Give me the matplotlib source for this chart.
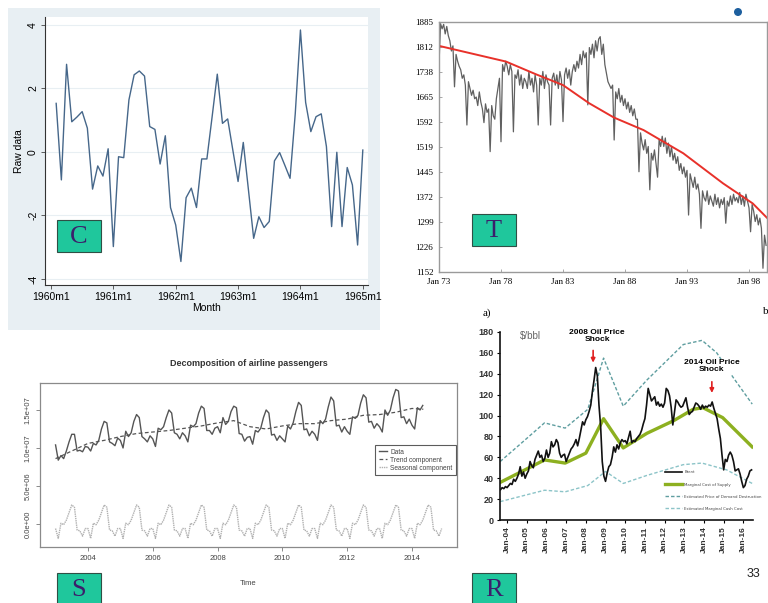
import numpy as np
import matplotlib.pyplot as plt
from matplotlib.patches import Rectangle, Ellipse

# ---- C panel: raw monthly data, 1960m2 .. 1965m1
c_month = np.arange(1, 61)
c_vals = [1.53, -0.88, 2.76, 0.95, 1.1, 1.27, 0.75, -1.17, -0.44, -0.76, 0.1, -2.98,
          -0.15, -0.18, 1.64, 2.43, 2.55, 2.39, 0.8, 0.71, -0.38, 0.51, -1.75, -2.3,
          -3.45, -1.44, -1.14, -1.75, -0.22, -0.22, 1.1, 2.45, 0.9, 1.04, 0.05, -0.93,
          0.3, -1.2, -2.72, -2.04, -2.38, -2.19, -0.28, -0.02, -0.42, -0.83, 1.2, 3.84,
          1.56, 0.64, 1.11, 1.2, 0.17, -2.35, -0.01, -2.35, -0.49, -1.04, -2.93, 0.06]
c_xticks = ['1960m1', '1961m1', '1962m1', '1963m1', '1964m1', '1965m1']

# ---- T panel: series sampled 8 times a year from Jan 73, plus red trend
t_vals = [1760, 1880, 1865, 1878, 1850, 1872, 1845, 1830,   # 1973
          1800, 1815, 1695, 1790, 1770, 1755, 1745, 1720,   # 1974
          1730, 1700, 1583, 1710, 1690, 1670, 1685, 1660,   # 1975
          1665, 1640, 1680, 1650, 1630, 1590, 1645, 1620,   # 1976
          1630, 1505, 1640, 1610, 1600, 1660, 1690, 1720,   # 1977
          1534, 1760, 1740, 1770, 1755, 1730, 1760, 1740,   # 1978
          1563, 1730, 1720, 1745, 1700, 1730, 1690, 1720,   # 1979
          1710, 1690, 1740, 1700, 1720, 1680, 1730, 1700,   # 1980
          1583, 1720, 1700, 1740, 1690, 1730, 1710, 1700,   # 1981
          1583, 1720, 1735, 1700, 1730, 1690, 1740, 1715,   # 1982
          1593, 1730, 1750, 1720, 1745, 1700, 1740, 1760,   # 1983
          1740, 1770, 1750, 1790, 1760, 1800, 1780, 1795,   # 1984
          1642, 1810, 1790, 1820, 1780, 1830, 1800, 1835,   # 1985
          1842, 1790, 1820, 1760, 1735, 1710, 1700, 1690,   # 1986
          1700, 1539, 1680, 1660, 1690, 1650, 1670, 1640,   # 1987
          1660, 1630, 1650, 1620, 1640, 1610, 1630, 1600,   # 1988
          1600, 1446, 1560, 1530, 1510, 1540, 1500, 1520,   # 1989
          1393, 1500, 1480, 1510, 1470, 1430, 1540, 1520,   # 1990
          1550, 1520, 1545, 1500, 1530, 1490, 1520, 1480,   # 1991
          1500, 1470, 1490, 1450, 1470, 1440, 1460, 1430,   # 1992
          1450, 1319, 1440, 1420, 1400, 1430, 1395, 1410,   # 1993
          1380, 1280, 1390, 1370, 1360, 1390, 1350, 1375,   # 1994
          1360, 1345, 1380, 1350, 1370, 1340, 1365, 1350,   # 1995
          1370, 1295, 1360, 1345, 1375, 1350, 1380, 1360,   # 1996
          1370, 1355, 1385, 1350, 1375, 1345, 1380, 1360,   # 1997
          1340, 1270, 1350, 1330, 1300, 1320, 1290, 1310,   # 1998
          1280, 1163, 1260, 1230]                           # 1999
t_time = 1973 + np.arange(len(t_vals)) / 8
trend_years = [1973, 1978.4, 1980.8, 1983.0, 1985.1, 1987.1, 1989.5, 1992.7, 1995.9, 1998.3, 1999.5]
trend_vals = [1815, 1769, 1732, 1700, 1647, 1605, 1568, 1500, 1412, 1353, 1309]
t_yticks = [1152, 1226, 1299, 1372, 1445, 1519, 1592, 1665, 1738, 1812, 1885]
t_xticks = ['Jan 73', 'Jan 78', 'Jan 83', 'Jan 88', 'Jan 93', 'Jan 98']

# ---- S panel: airline passengers (millions), monthly from Jan 2003
s_data = [10.4, 8.4, 9.0, 8.6, 9.6, 10.8, 11.8, 11.8, 9.6, 9.7, 9.5, 10.2,
          10.1, 9.6, 10.6, 10.4, 11.0, 12.5, 13.5, 13.3, 10.8, 10.6, 10.3, 11.3,
          11.0, 10.0, 12.2, 11.5, 12.0, 13.5, 14.4, 14.0, 11.5, 11.2, 10.8, 11.6,
          11.2, 10.2, 12.6, 12.4, 12.8, 14.0, 15.0, 14.6, 12.0, 11.8, 11.2, 12.0,
          11.6, 10.8, 13.0, 12.8, 13.2, 14.6, 15.5, 15.2, 12.3, 12.3, 11.8, 12.6,
          12.8, 12.0, 14.0, 13.1, 13.5, 14.8, 15.5, 15.3, 11.9, 11.8, 10.9, 11.4,
          11.5, 10.5, 12.3, 12.1, 12.6, 14.0, 15.0, 14.6, 11.7, 11.8, 11.0, 11.6,
          11.2, 10.8, 12.9, 12.5, 13.3, 14.8, 16.0, 15.6, 12.4, 12.5, 11.6, 12.2,
          11.8, 11.0, 13.6, 13.2, 13.8, 15.4, 16.7, 16.2, 12.9, 13.0, 12.1, 12.8,
          12.2, 11.8, 14.1, 13.9, 14.3, 15.9, 17.0, 16.6, 13.4, 13.5, 12.6, 13.2,
          12.8, 12.1, 15.0, 14.3, 15.0, 16.6, 17.7, 17.5, 14.0, 14.1, 13.2, 13.8,
          13.0, 12.5, 15.3, 15.0, 15.6]
s_trend_t = [2003.0, 2003.5, 2004.0, 2004.5, 2005.0, 2005.5, 2006.0, 2006.5, 2007.0, 2007.5,
             2008.0, 2008.5, 2009.0, 2009.5, 2010.0, 2010.5, 2011.0, 2011.5, 2012.0, 2012.5,
             2013.0, 2013.5, 2014.0, 2014.35]
s_trend = [8.6, 9.6, 10.6, 11.0, 11.5, 11.9, 12.1, 12.3, 12.6, 12.9,
           13.3, 13.6, 12.8, 12.5, 12.9, 13.2, 13.2, 13.6, 13.8, 14.3,
           14.4, 14.7, 15.2, 15.1]
s_season = [-0.6, -1.9, 0.1, -0.1, 0.5, 1.5, 2.5, 2.2, -0.8, -0.9, -1.6, -0.6]
s_yticks = ['0.0e+00', '5.0e+06', '1.0e+07', '1.5e+07']

# ---- R panel: oil prices ($/bbl)
brent = [29, 31, 30, 32,
         31, 33, 35, 34, 39, 37, 40, 44, 51, 42, 46, 40,
         44, 47, 56, 52, 50, 58, 62, 66, 60, 62, 56, 59,
         67, 60, 64, 75, 70, 72, 77, 74, 64, 60, 62, 63,
         56, 60, 64, 68, 70, 73, 77, 71, 78, 86, 94, 91,
         96, 99, 104, 110, 123, 134, 146, 138, 110, 90, 56, 42,
         37, 45, 51, 53, 60, 70, 65, 72, 68, 74, 77, 75,
         76, 73, 79, 85, 74, 76, 75, 78, 80, 82, 86, 92,
         97, 110, 126, 120, 114, 116, 118, 110, 113, 109, 111, 108,
         112, 126, 124, 119, 108, 91, 103, 115, 113, 110, 108, 109,
         113, 117, 108, 101, 103, 104, 108, 112, 111, 109, 106, 110,
         107, 109, 108, 110, 109, 113, 107, 102, 97, 87, 78, 62,
         48, 58, 56, 62, 65, 62, 56, 47, 48, 49, 44, 37,
         31, 33, 39, 42, 47, 48]
brent_t = 2003 + 8 / 12 + np.arange(len(brent)) / 12
supply_t = [2003.65, 2005.9, 2006.95, 2008.0, 2008.9, 2009.9, 2011.1, 2012.45, 2013.45, 2013.95, 2014.95, 2016.45]
supply = [36, 57.5, 54.5, 64, 97, 69, 83, 95, 106, 107.5, 98, 70]
demand_t = [2003.65, 2004.75, 2005.9, 2006.95, 2008.1, 2008.9, 2009.9, 2011.1, 2012.95, 2013.9, 2014.65, 2015.5, 2016.45]
demand = [56, 74, 93, 88, 106, 155, 109, 134, 168, 172, 160, 136, 111]
cash_t = [2003.65, 2005.9, 2006.95, 2008.1, 2009.0, 2009.9, 2011.1, 2012.95, 2013.9, 2015.15, 2016.45]
cash = [17.6, 28.5, 27, 33, 46.5, 35, 42.7, 53, 54.5, 48, 35]
r_xticks = ['Jan-04', 'Jan-05', 'Jan-06', 'Jan-07', 'Jan-08', 'Jan-09', 'Jan-10',
            'Jan-11', 'Jan-12', 'Jan-13', 'Jan-14', 'Jan-15', 'Jan-16']

W, H = 768, 603
fig = plt.figure(figsize=(7.68, 6.03), dpi=100)
fig.patch.set_facecolor('white')


def px_axes(l, t, r, b):
    return fig.add_axes([l / W, 1 - b / H, (r - l) / W, (b - t) / H])


def label_box(x, y, letter):
    fig.add_artist(Rectangle((x / W, 1 - (y + 32) / H), 44 / W, 32 / H, transform=fig.transFigure,
                             facecolor='#1fc79c', edgecolor='#2f4f45', lw=0.8, zorder=5))
    fig.text((x + 22) / W, 1 - (y + 17) / H, letter, ha='center', va='center', fontsize=19,
             family='Liberation Serif', color='#3b1f6b', zorder=6)


# ---------------- C ----------------
fig.add_artist(Rectangle((8 / W, 1 - 330 / H), 372 / W, 322 / H, transform=fig.transFigure,
                         facecolor='#e8eff3', edgecolor='none', zorder=-1))
axC = px_axes(45, 17, 368, 285)
axC.plot(c_month, c_vals, color='#46678a', lw=1)
axC.set_xlim(-1.15, 61)
axC.set_ylim(-4.19, 4.25)
axC.set_xticks(range(0, 61, 12))
axC.set_xticklabels(c_xticks, family='Liberation Sans', fontsize=7.5)
axC.set_yticks([-4, -2, 0, 2, 4])
axC.set_yticklabels(['-4', '-2', '0', '2', '4'], rotation=90, va='center',
                    family='Liberation Sans', fontsize=7.5)
axC.grid(axis='y', color='#e8eff3', lw=0.8)
axC.set_axisbelow(True)
for s in ['top', 'right']:
    axC.spines[s].set_visible(False)
for s in ['left', 'bottom']:
    axC.spines[s].set_color('#333333')
    axC.spines[s].set_linewidth(0.8)
axC.tick_params(length=3, width=0.6, color='#444444', pad=2)
axC.set_ylabel('Raw data', family='Liberation Sans', fontsize=7.5, labelpad=3)
axC.set_xlabel('Month', family='Liberation Sans', fontsize=7.5, labelpad=1)
label_box(57, 220, 'C')

# ---------------- T ----------------
axT = px_axes(439, 22, 767, 272)
axT.plot(t_time, t_vals, color='#606060', lw=0.9)
axT.plot(trend_years, trend_vals, color='#e8312a', lw=1.4)
axT.set_xlim(1973, 1999.45)
axT.set_ylim(1152, 1885)
axT.set_yticks(t_yticks)
axT.set_yticklabels([str(v) for v in t_yticks], family='Liberation Serif', fontsize=6.5)
axT.set_xticks(range(1973, 1999, 5))
axT.set_xticklabels(t_xticks, family='Liberation Serif', fontsize=6.5)
for s in axT.spines.values():
    s.set_color('#9a9a9a')
    s.set_linewidth(1)
axT.tick_params(direction='in', length=2.5, width=0.6, color='#9a9a9a', pad=4)
label_box(472, 214, 'T')
fig.add_artist(Ellipse((738 / W, 1 - 12 / H), 8 / W, 8 / H, transform=fig.transFigure,
                       facecolor='#1d5f9e', edgecolor='none'))

# ---------------- S ----------------
axS = px_axes(40, 383, 457, 547)
s_t = 2003 + np.arange(len(s_data)) / 12
season_t = 2003 + np.arange(144) / 12
axS.plot(s_t, s_data, color='#555555', lw=1, label='Data')
axS.plot(s_trend_t, s_trend, color='#555555', lw=0.9, ls=(0, (3, 2)), label='Trend component')
axS.plot(season_t, np.tile(s_season, 12), color='#b0b0b0', lw=1, ls=(0, (1, 0.6)),
         label='Seasonal component')
axS.set_xlim(2002.52, 2015.39)
axS.set_ylim(-3.03, 18.55)
axS.set_xticks(range(2004, 2015, 2))
axS.set_xticklabels([str(y) for y in range(2004, 2015, 2)], family='Liberation Sans',
                    fontsize=5.5, color='#444444')
axS.set_yticks([0, 5, 10, 15])
axS.set_yticklabels(s_yticks, rotation=90, va='center', family='Liberation Sans',
                    fontsize=5.5, color='#444444')
for s in axS.spines.values():
    s.set_color('#8a8a8a')
    s.set_linewidth(0.9)
axS.tick_params(length=3, width=0.6, color='#777777', pad=3)
axS.set_title('Decomposition of airline passengers', family='Liberation Sans', fontsize=6.5,
              fontweight='bold', color='#333333', pad=12)
axS.set_xlabel('Time', family='Liberation Sans', fontsize=5.5, color='#444444', labelpad=13)
legS = axS.legend(loc='center right', bbox_to_anchor=(1.0, 0.53),
                  prop={'family': 'Liberation Sans', 'size': 4.8}, frameon=True, fancybox=False,
                  handlelength=1.3, handletextpad=0.4, labelspacing=0.15, borderpad=0.5,
                  borderaxespad=0.2)
legS.get_frame().set_edgecolor('#333333')
legS.get_frame().set_linewidth(0.8)
for t in legS.get_texts():
    t.set_color('#444444')
label_box(57, 573, 'S')

# ---------------- R ----------------
axR = px_axes(500, 332, 753, 520)
axR.plot(demand_t, demand, color='#5f9ea0', lw=1, ls=(0, (2.5, 1.5)),
         label='Estimated Price of Demand Destruction')
axR.plot(cash_t, cash, color='#8cc4c8', lw=1, ls=(0, (2.5, 1.5)),
         label='Estimated Marginal Cash Cost')
axR.plot(supply_t, supply, color='#8db020', lw=2.4, label='Marginal Cost of Supply')
axR.plot(brent_t, brent, color='#111111', lw=1.2, label='Brent')
axR.set_xlim(2003.64, 2016.49)
axR.set_ylim(0, 180)
axR.set_yticks(range(0, 181, 20))
axR.set_yticklabels([str(v) for v in range(0, 181, 20)], family='Liberation Sans',
                    fontsize=6.5, fontweight='bold', color='#333333')
axR.set_xticks(range(2004, 2017))
axR.set_xticklabels(r_xticks, rotation=90, family='Liberation Sans', fontsize=6,
                    fontweight='bold', color='#333333')
for s in ['top', 'right']:
    axR.spines[s].set_visible(False)
for s in ['left', 'bottom']:
    axR.spines[s].set_color('#111111')
    axR.spines[s].set_linewidth(1.2)
axR.tick_params(length=2.5, width=0.8, pad=2)
axR.text(2004.66, 176, '$/bbl', family='Liberation Sans', fontsize=7, color='#666666',
         va='center', ha='left')
axR.text(2008.57, 176, '2008 Oil Price\nShock', family='Liberation Sans', fontsize=6,
         fontweight='bold', ha='center', va='center', linespacing=1.0,
         bbox=dict(facecolor='white', edgecolor='none', pad=0.5), zorder=5)
axR.text(2014.4, 147, '2014 Oil Price\nShock', family='Liberation Sans', fontsize=6,
         fontweight='bold', ha='center', va='center', linespacing=1.0,
         bbox=dict(facecolor='white', edgecolor='none', pad=0.5), zorder=5)
axR.annotate('', xy=(2008.37, 148), xytext=(2008.37, 165),
             arrowprops=dict(arrowstyle='-|>', color='#e02020', lw=1.2, mutation_scale=6))
axR.annotate('', xy=(2014.4, 119), xytext=(2014.4, 135),
             arrowprops=dict(arrowstyle='-|>', color='#e02020', lw=1.2, mutation_scale=6))
handles, labels = axR.get_legend_handles_labels()
order = [3, 2, 0, 1]
legR = axR.legend([handles[i] for i in order], [labels[i] for i in order], loc='lower left',
                  bbox_to_anchor=(0.64, 0.03), frameon=False, fontsize=2.8,
                  handlelength=4.2, handletextpad=0.7, labelspacing=2.1)
for t in legR.get_texts():
    t.set_color('#444444')
label_box(472, 573, 'R')

fig.text(483 / W, 1 - 313 / H, 'a)', family='Liberation Serif', fontsize=8, va='center')
fig.text(763 / W, 1 - 311 / H, 'b', family='Liberation Serif', fontsize=8, va='center')
fig.text(753 / W, 1 - 574 / H, '33', family='Liberation Sans', fontsize=9, va='center',
         ha='center', color='#222222')

fig.savefig('out.png', dpi=100)
